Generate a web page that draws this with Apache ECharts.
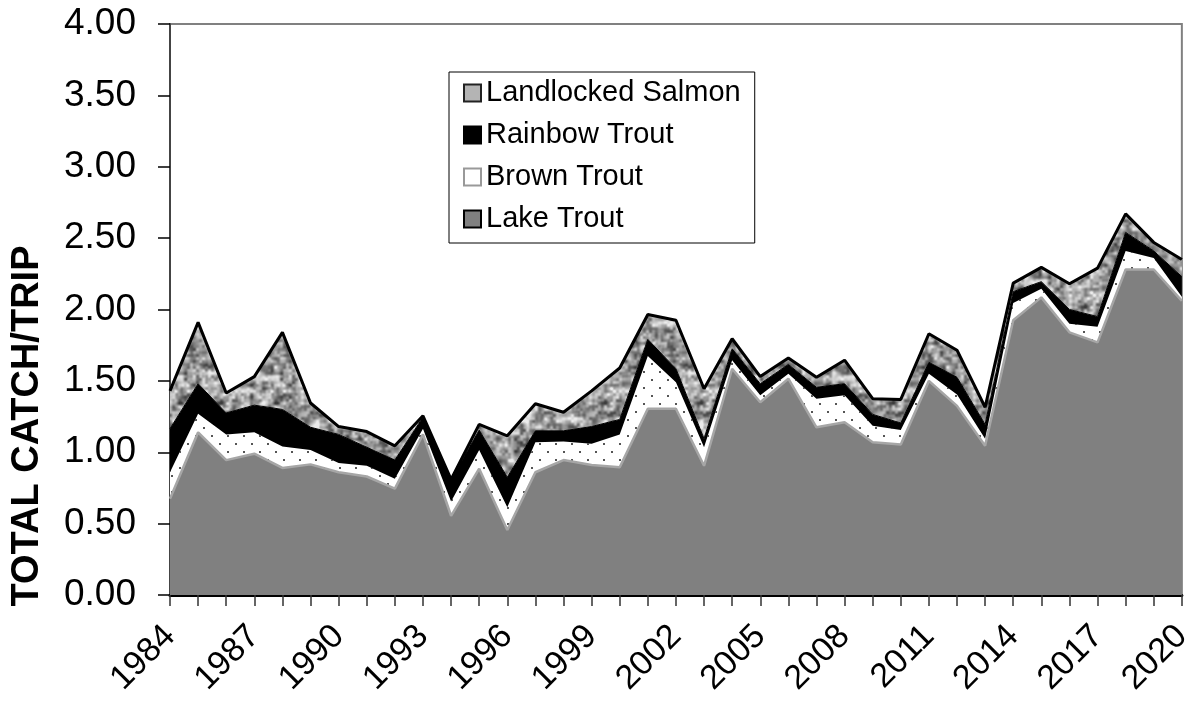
<!DOCTYPE html>
<html>
<head>
<meta charset="utf-8">
<script src="https://cdn.jsdelivr.net/npm/echarts@6/dist/echarts.min.js"></script>
<style>
html,body{margin:0;padding:0;background:#fff;}
#chart{width:1196px;height:708px;}
</style>
</head>
<body>
<div id="chart"></div>
<script>
const years = ['1984','1985','1986','1987','1988','1989','1990','1991','1992','1993','1994','1995','1996','1997','1998','1999','2000','2001','2002','2003','2004','2005','2006','2007','2008','2009','2010','2011','2012','2013','2014','2015','2016','2017','2018','2019','2020'];
const lakeTrout = [0.675,1.14,0.945,0.99,0.89,0.915,0.86,0.83,0.745,1.125,0.555,0.885,0.455,0.86,0.945,0.91,0.895,1.305,1.305,0.905,1.585,1.35,1.515,1.175,1.21,1.07,1.055,1.50,1.325,1.045,1.925,2.085,1.84,1.77,2.28,2.28,2.06];
const brownTrout = [0.185,0.13,0.18,0.15,0.15,0.10,0.065,0.075,0.07,0.04,0.10,0.13,0.16,0.21,0.13,0.15,0.23,0.37,0.185,0.13,0.06,0.05,0.035,0.20,0.19,0.115,0.10,0.05,0.08,0.05,0.12,0.06,0.06,0.11,0.13,0.08,0.03];
const rainbowTrout = [0.305,0.21,0.15,0.19,0.26,0.16,0.20,0.13,0.13,0.08,0.15,0.14,0.21,0.08,0.075,0.12,0.105,0.115,0.095,0.06,0.08,0.08,0.065,0.08,0.08,0.08,0.05,0.08,0.12,0.10,0.08,0.05,0.10,0.07,0.13,0.05,0.14];
const landlockedSalmon = [0.265,0.43,0.14,0.20,0.54,0.17,0.055,0.11,0.10,0.01,0.005,0.04,0.29,0.19,0.13,0.25,0.36,0.175,0.34,0.35,0.07,0.05,0.045,0.07,0.165,0.11,0.165,0.20,0.19,0.12,0.06,0.10,0.18,0.34,0.13,0.06,0.12];
const legendOrder = ['Landlocked Salmon','Rainbow Trout','Brown Trout','Lake Trout'];

// texture: brown trout dots
function dotPattern(){
  const c = document.createElement('canvas'); c.width = 16; c.height = 16;
  const g = c.getContext('2d');
  g.fillStyle = '#fff'; g.fillRect(0,0,16,16);
  g.fillStyle = '#555';
  g.fillRect(3,3,2,2); g.fillRect(11,11,2,2);
  return c;
}
// texture: mottled gray for salmon (deterministic value noise)
function mottlePattern(){
  const N = 96, c = document.createElement('canvas'); c.width = N; c.height = N;
  const g = c.getContext('2d');
  const img = g.createImageData(N,N);
  function h(i,j){ const s = Math.sin(i*127.1 + j*311.7)*43758.5453; return s - Math.floor(s); }
  function noise(x,y,cell){
    const m = N/cell;
    const xi = Math.floor(x/cell), yi = Math.floor(y/cell);
    let fx = x/cell - xi, fy = y/cell - yi;
    fx = fx*fx*(3-2*fx); fy = fy*fy*(3-2*fy);
    const a = h(xi%m, yi%m), b = h((xi+1)%m, yi%m), c2 = h(xi%m,(yi+1)%m), d = h((xi+1)%m,(yi+1)%m);
    return (a*(1-fx)+b*fx)*(1-fy) + (c2*(1-fx)+d*fx)*fy;
  }
  for(let y=0;y<N;y++){
    for(let x=0;x<N;x++){
      const v = 0.6*noise(x,y,6) + 0.4*noise(x+37,y+11,3);
      let gray = 155 + (v-0.5)*230;
      gray = Math.max(60, Math.min(235, gray));
      const k = (y*N+x)*4;
      img.data[k]=gray; img.data[k+1]=gray; img.data[k+2]=gray; img.data[k+3]=255;
    }
  }
  g.putImageData(img,0,0);
  return c;
}

const FONT = '"Liberation Sans", Arial, sans-serif';
const chart = echarts.init(document.getElementById('chart'), null, {renderer:'canvas'});
const base = {type:'line', stack:'total', symbol:'none', smooth:false};
chart.setOption({
  animation:false,
  backgroundColor:'#fff',
  grid:{left:170, right:9, top:24, bottom:113, show:true, borderColor:'#808080', borderWidth:2, backgroundColor:'transparent'},
  legend:{
    orient:'vertical', left:449, top:72,
    backgroundColor:'#fff', borderColor:'#000', borderWidth:1,
    padding:[4,14,7,14],
    itemWidth:17, itemHeight:17, itemGap:8,
    icon:'rect',
    textStyle:{fontFamily:FONT, fontSize:29, color:'#000', lineHeight:34},
    data:[
      {name:'Landlocked Salmon', itemStyle:{color:'#b4b4b4', borderColor:'#222', borderWidth:2}},
      {name:'Rainbow Trout', itemStyle:{color:'#000', borderColor:'#000', borderWidth:2}},
      {name:'Brown Trout', itemStyle:{color:'#fff', borderColor:'#999', borderWidth:2}},
      {name:'Lake Trout', itemStyle:{color:'#808080', borderColor:'#000', borderWidth:2}}
    ]
  },
  xAxis:{
    type:'category', data:years, boundaryGap:false,
    axisLine:{lineStyle:{color:'#000', width:3}},
    axisTick:{show:true, interval:0, length:11, lineStyle:{color:'#333', width:1.5}},
    axisLabel:{interval:2, rotate:45, fontSize:34, fontFamily:FONT, color:'#000', margin:36},
    splitLine:{show:false}
  },
  yAxis:{
    type:'value', min:0, max:4, interval:0.5,
    axisLine:{show:true, lineStyle:{color:'#444', width:2}},
    axisTick:{show:true, length:12, lineStyle:{color:'#000', width:1.5}},
    axisLabel:{fontSize:37, fontFamily:FONT, color:'#000', margin:34, formatter:v=>v.toFixed(2)},
    splitLine:{show:false}
  },
  graphic:[{
    type:'text', x:28, y:426, rotation:Math.PI/2,
    style:{text:'TOTAL CATCH/TRIP', font:'bold 38px ' + FONT, fill:'#000', align:'center', verticalAlign:'middle'}
  }],
  series:[
    Object.assign({}, base, {name:'Lake Trout', data:lakeTrout, z:2,
      itemStyle:{color:'#808080'},
      lineStyle:{color:'#a6a6a6', width:2.5},
      areaStyle:{color:'#808080', opacity:1}}),
    Object.assign({}, base, {name:'Brown Trout', data:brownTrout, z:2,
      itemStyle:{color:'#fff'},
      lineStyle:{width:0},
      areaStyle:{color:{image:dotPattern(), repeat:'repeat'}, opacity:1}}),
    Object.assign({}, base, {name:'Rainbow Trout', data:rainbowTrout, z:2,
      itemStyle:{color:'#000'},
      lineStyle:{color:'#000', width:1},
      areaStyle:{color:'#000', opacity:1}}),
    Object.assign({}, base, {name:'Landlocked Salmon', data:landlockedSalmon, z:2,
      itemStyle:{color:'#b4b4b4'},
      lineStyle:{color:'#000', width:3},
      areaStyle:{color:{image:mottlePattern(), repeat:'repeat'}, opacity:1}})
  ]
});
</script>
</body>
</html>
